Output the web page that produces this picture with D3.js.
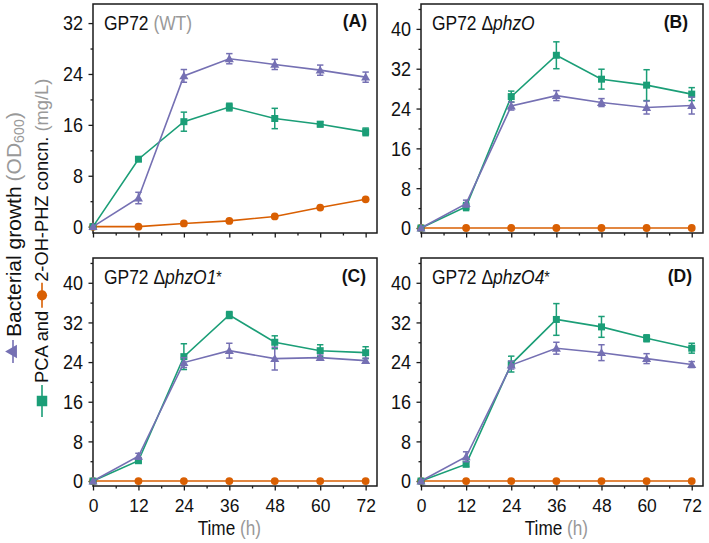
<!DOCTYPE html>
<html><head><meta charset="utf-8">
<script src="https://cdn.jsdelivr.net/npm/d3@7"></script>
<style>
body{margin:0;background:#fff}
svg{display:block}
text{font-family:"Liberation Sans",Arial,Helvetica,sans-serif}
</style>
</head><body>
<svg id="chart" width="709" height="543"></svg>
<script>
// ---------- data ----------
const times = [0, 12, 24, 36, 48, 60, 72];
const xTicks = [0, 12, 24, 36, 48, 60, 72];
const xMinorTicks = [6, 18, 30, 42, 54, 66];
const yTicksA = [0, 8, 16, 24, 32];
const yMinorA = [4, 12, 20, 28];
const yTicksBCD = [0, 8, 16, 24, 32, 40];
const yMinorBCD = [4, 12, 20, 28, 36, 44];

const panelTitles = ["GP72", "GP72", "GP72", "GP72"];
const panelLetters = ["(A)", "(B)", "(C)", "(D)"];

// Panel A (WT)
const growthA    = [0, 4.5, 23.7, 26.4, 25.5, 24.6, 23.5];
const growthErrA = [0, 0.9, 1.0, 0.8, 0.8, 0.8, 0.8];
const pcaA       = [0, 10.6, 16.5, 18.8, 17.0, 16.1, 14.9];
const pcaErrA    = [0, 0.3, 1.5, 0.6, 1.6, 0.4, 0.6];
const ohA        = [0, 0, 0.5, 0.9, 1.6, 3.0, 4.3];

// Panel B (ΔphzO)
const growthB    = [0, 4.9, 24.5, 26.6, 25.2, 24.2, 24.6];
const growthErrB = [0, 0.7, 0.8, 1.0, 0.8, 1.3, 1.7];
const pcaB       = [0, 4.3, 26.4, 34.7, 29.9, 28.7, 26.9];
const pcaErrB    = [0, 0.8, 1.1, 2.7, 2.0, 3.1, 1.3];
const ohB        = [0, 0, 0, 0, 0, 0, 0];

// Panel C (ΔphzO1*)
const growthC    = [0, 5.0, 23.9, 26.3, 24.7, 24.9, 24.3];
const growthErrC = [0, 0.6, 1.0, 1.5, 2.3, 0.5, 0.5];
const pcaC       = [0, 4.1, 25.1, 33.5, 28.0, 26.3, 25.9];
const pcaErrC    = [0, 0.3, 2.6, 0.7, 1.3, 1.2, 1.2];
const ohC        = [0, 0, 0, 0, 0, 0, 0];

// Panel D (ΔphzO4*)
const growthD    = [0, 4.9, 23.4, 26.8, 25.9, 24.7, 23.5];
const growthErrD = [0, 1.0, 0.8, 1.2, 1.6, 1.0, 0.6];
const pcaD       = [0, 3.4, 23.6, 32.6, 31.1, 28.8, 26.8];
const pcaErrD    = [0, 0.5, 1.6, 3.2, 2.1, 0.7, 1.0];
const ohD        = [0, 0, 0, 0, 0, 0, 0];

// ---------- style ----------
const C_GROWTH = "#7570b3";
const C_PCA = "#1b9e77";
const C_OH = "#d95f02";
const C_GREY = "#999999";
const C_AXIS = "#1a1a1a";

const panels = [
  {x0: 93,  x1: 377, y0: 4,   y1: 233, ymax: 35, ticks: yTicksA,   minor: yMinorA,   xlabels: false,
   title: panelTitles[0], sub: [{t: "\u00a0(WT)", grey: true}], letter: panelLetters[0], lx: 367, ly: 27,
   growth: growthA, growthErr: growthErrA, pca: pcaA, pcaErr: pcaErrA, oh: ohA},
  {x0: 421, x1: 703, y0: 4,   y1: 233, ymax: 45, ticks: yTicksBCD, minor: yMinorBCD, xlabels: false,
   title: panelTitles[1], sub: [{t: "\u00a0Δ"}, {t: "phzO", it: true}], letter: panelLetters[1], lx: 688, ly: 28,
   growth: growthB, growthErr: growthErrB, pca: pcaB, pcaErr: pcaErrB, oh: ohB},
  {x0: 93,  x1: 377, y0: 258, y1: 486, ymax: 45, ticks: yTicksBCD, minor: yMinorBCD, xlabels: true,
   title: panelTitles[2], sub: [{t: "\u00a0Δ"}, {t: "phzO1", it: true}, {t: "*", star: true}], letter: panelLetters[2], lx: 366, ly: 282,
   growth: growthC, growthErr: growthErrC, pca: pcaC, pcaErr: pcaErrC, oh: ohC},
  {x0: 421, x1: 703, y0: 258, y1: 486, ymax: 45, ticks: yTicksBCD, minor: yMinorBCD, xlabels: true,
   title: panelTitles[3], sub: [{t: "\u00a0Δ"}, {t: "phzO4", it: true}, {t: "*", star: true}], letter: panelLetters[3], lx: 692, ly: 282,
   growth: growthD, growthErr: growthErrD, pca: pcaD, pcaErr: pcaErrD, oh: ohD}
];

const svg = d3.select("#chart");

function symbolPath(kind) {
  if (kind === "tri") return d3.symbol(d3.symbolTriangle, 36)();
  if (kind === "sq") return d3.symbol(d3.symbolSquare, 49)();
  return d3.symbol(d3.symbolCircle, 48)();
}

panels.forEach(p => {
  const g = svg.append("g");
  const x = d3.scaleLinear().domain([0, 75]).range([p.x0, p.x1]);
  const y = d3.scaleLinear().domain([-1, p.ymax]).range([p.y1, p.y0]);

  // y axis (major + minor)
  const yAx = g.append("g").attr("transform", `translate(${p.x0},0)`)
    .call(d3.axisLeft(y).tickValues(p.ticks).tickSize(4.5).tickFormat(d3.format("d")));
  g.append("g").attr("transform", `translate(${p.x0},0)`)
    .call(d3.axisLeft(y).tickValues(p.minor).tickSize(2.5).tickFormat(""));
  // x axis (major + minor)
  const xAx = g.append("g").attr("transform", `translate(0,${p.y1})`)
    .call(d3.axisBottom(x).tickValues(xTicks).tickSize(4.5).tickFormat(p.xlabels ? d3.format("d") : ""));
  g.append("g").attr("transform", `translate(0,${p.y1})`)
    .call(d3.axisBottom(x).tickValues(xMinorTicks).tickSize(2.5).tickFormat(""));
  g.selectAll(".domain").remove();
  g.selectAll(".tick line").attr("stroke", C_AXIS).attr("stroke-width", 1.3);

  yAx.selectAll(".tick text")
    .attr("x", null).attr("dy", null)
    .attr("fill", "#111").attr("font-size", 20)
    .attr("dominant-baseline", "central")
    .attr("transform", "translate(-10,0) scale(0.9,1)")
    .attr("text-anchor", "end");
  if (p.xlabels) {
    xAx.selectAll(".tick text")
      .attr("y", null).attr("dy", null)
      .attr("fill", "#111").attr("font-size", 19)
      .attr("transform", "translate(0,26) scale(0.92,1)")
      .attr("text-anchor", "middle");
    const tl = g.append("text").attr("font-size", 19.5).attr("fill", "#111")
      .attr("text-anchor", "middle")
      .attr("transform", `translate(${x(36)},${p.y1 + 49}) scale(0.88,1)`);
    tl.append("tspan").text("Time\u00a0");
    tl.append("tspan").attr("fill", C_GREY).text("(h)");
  }

  // frame
  g.append("rect").attr("x", p.x0).attr("y", p.y0)
    .attr("width", p.x1 - p.x0).attr("height", p.y1 - p.y0)
    .attr("fill", "none").attr("stroke", C_AXIS).attr("stroke-width", 1.5);

  // series
  const series = [
    {vals: p.oh, err: null, color: C_OH, kind: "circ"},
    {vals: p.pca, err: p.pcaErr, color: C_PCA, kind: "sq"},
    {vals: p.growth, err: p.growthErr, color: C_GROWTH, kind: "tri"}
  ];
  series.forEach(s => {
    const pts = times.map((t, i) => ({t, v: s.vals[i], e: s.err ? s.err[i] : 0}));
    const sg = g.append("g");
    sg.append("path").datum(pts)
      .attr("fill", "none").attr("stroke", s.color).attr("stroke-width", 1.6)
      .attr("d", d3.line().x(d => x(d.t)).y(d => y(d.v)));
    const eb = sg.selectAll(".eb").data(pts.filter(d => d.e > 0)).enter().append("g")
      .attr("stroke", s.color).attr("stroke-width", 1.5);
    eb.append("line").attr("x1", d => x(d.t)).attr("x2", d => x(d.t))
      .attr("y1", d => y(d.v - d.e)).attr("y2", d => y(d.v + d.e));
    eb.append("line").attr("x1", d => x(d.t) - 3.2).attr("x2", d => x(d.t) + 3.2)
      .attr("y1", d => y(d.v + d.e)).attr("y2", d => y(d.v + d.e));
    eb.append("line").attr("x1", d => x(d.t) - 3.2).attr("x2", d => x(d.t) + 3.2)
      .attr("y1", d => y(d.v - d.e)).attr("y2", d => y(d.v - d.e));
    sg.selectAll(".mk").data(pts).enter().append("path")
      .attr("d", symbolPath(s.kind))
      .attr("fill", s.color)
      .attr("transform", d => `translate(${x(d.t)},${y(d.v) + (s.kind === "tri" ? 0.8 : 0)})`);
  });

  // title
  const tt = g.append("text").attr("font-size", 21).attr("fill", "#111")
    .attr("transform", `translate(${p.x0 + 11},${p.y0 + 26}) scale(0.83,1)`);
  tt.append("tspan").text(p.title);
  p.sub.forEach(s => {
    const ts = tt.append("tspan").text(s.t);
    if (s.grey) ts.attr("fill", C_GREY);
    if (s.it) ts.attr("font-style", "italic");
    if (s.star) ts.attr("font-size", 17).attr("dy", -1);
  });
  // letter
  g.append("text").attr("x", p.lx).attr("y", p.ly)
    .attr("font-size", 17.5).attr("font-weight", "bold").attr("fill", "#111")
    .attr("text-anchor", "end").text(p.letter);
});

// ---------- rotated y-axis label with inline legend ----------
function buildLabel(tx, ty, fontSize, mid, items) {
  const lg = svg.append("g").attr("transform", `translate(${tx},${ty}) rotate(-90)`);
  let pos = 0;
  items.forEach(it => {
    if (it.sym) {
      lg.append("line").attr("x1", pos).attr("x2", pos + it.len)
        .attr("y1", mid).attr("y2", mid)
        .attr("stroke", it.color).attr("stroke-width", 1.6);
      lg.append("path").attr("d", symbolPath(it.sym)).attr("fill", it.color)
        .attr("transform", `translate(${pos + it.len / 2},${mid}) scale(${it.scale || 1})`);
      pos += it.len;
    } else if (it.gap) {
      pos += it.gap;
    } else {
      const t = lg.append("text").attr("x", pos).attr("y", 0)
        .attr("font-size", fontSize).attr("fill", it.grey ? C_GREY : "#111");
      it.parts.forEach(pt => {
        const s = t.append("tspan").text(pt.t);
        if (pt.sub) s.attr("font-size", fontSize * 0.68).attr("dy", 3);
        if (pt.up) s.attr("dy", -3);
      });
      pos += t.node().getComputedTextLength();
    }
  });
}

buildLabel(21, 363, 21, -8, [
  {sym: "tri", color: C_GROWTH, len: 23, scale: 1.5},
  {gap: 3},
  {parts: [{t: "Bacterial growth"}]},
  {gap: 5},
  {grey: true, parts: [{t: "(OD"}, {t: "600", sub: true}, {t: ")", up: true}]}
]);
buildLabel(48, 417, 18.3, -6, [
  {sym: "sq", color: C_PCA, len: 32, scale: 1.5},
  {gap: 2},
  {parts: [{t: "PCA and"}]},
  {gap: 3},
  {sym: "circ", color: C_OH, len: 25, scale: 1.3},
  {gap: 1},
  {parts: [{t: "2-OH-PHZ concn."}]},
  {gap: 5},
  {grey: true, parts: [{t: "(mg/L)"}]}
]);
</script>
</body></html>
